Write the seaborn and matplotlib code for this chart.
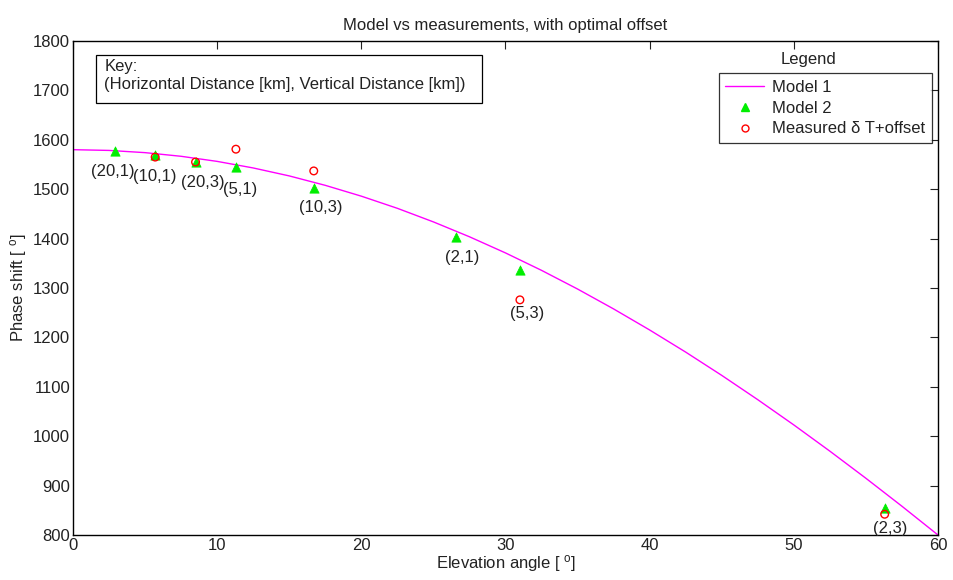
import matplotlib
matplotlib.use("Agg")
import matplotlib.pyplot as plt
import seaborn as sns
import pandas as pd
from matplotlib.patches import Rectangle
from matplotlib.lines import Line2D

# ---- data ----
model1_angle = [0, 2.5, 5, 7.5, 10, 12.5, 15, 17.5, 20, 22.5, 25, 27.5, 30,
                32.5, 35, 37.5, 40, 42.5, 45, 47.5, 50, 52.5, 55, 57.5, 60]
model1_phase = [1580, 1578.5, 1574, 1566.6, 1556.3, 1543, 1526.9, 1507.8, 1485.9,
                1461.3, 1433.8, 1403.7, 1371, 1335.7, 1297.9, 1257.6, 1215,
                1170.2, 1123.1, 1073.9, 1022.8, 969.7, 914.8, 858.2, 800]

model2_angle = [2.9, 5.7, 8.5, 11.3, 16.7, 26.6, 31.0, 56.3]
model2_phase = [1578, 1569, 1556, 1544, 1503, 1404, 1336, 855]

meas_angle = [5.7, 8.5, 11.3, 16.7, 31.0, 56.3]
meas_phase = [1565, 1555, 1581, 1537, 1276, 842]

labels = ["(20,1)", "(10,1)", "(20,3)", "(5,1)", "(10,3)", "(2,1)", "(5,3)", "(2,3)"]
label_x = [2.75, 5.7, 9.0, 11.6, 17.2, 27.0, 31.5, 56.7]
label_y = [1536, 1526, 1514, 1500, 1463, 1361, 1248, 813]

title = "Model vs measurements, with optimal offset"
xlabel = r"Elevation angle [ $^{\rm o}$]"
ylabel = r"Phase shift [ $^{\rm o}$]"
xticks = [0, 10, 20, 30, 40, 50, 60]
yticks = [800, 900, 1000, 1100, 1200, 1300, 1400, 1500, 1600, 1700, 1800]

# ---- style ----
sns.set_theme(style="white")
plt.rcParams["font.family"] = ["Liberation Sans", "DejaVu Sans"]
plt.rcParams["mathtext.fontset"] = "custom"
plt.rcParams["mathtext.rm"] = "Liberation Sans"
plt.rcParams["mathtext.it"] = "Liberation Sans"

fs = 12
fig = plt.figure(figsize=(9.54, 5.80), dpi=100)
ax = fig.add_axes([73/954, 1 - 535/580, (938 - 73)/954, (535 - 41)/580])

df1 = pd.DataFrame({"angle": model1_angle, "phase": model1_phase})
df2 = pd.DataFrame({"angle": model2_angle, "phase": model2_phase})
df3 = pd.DataFrame({"angle": meas_angle, "phase": meas_phase})

sns.lineplot(data=df1, x="angle", y="phase", ax=ax, color="#FF00FF", lw=1.0,
             sort=False, estimator=None, zorder=2)
sns.scatterplot(data=df2, x="angle", y="phase", ax=ax, marker="^", s=45,
                color="#00EE00", edgecolor="#00EE00", linewidth=0.5, zorder=3)
sns.scatterplot(data=df3, x="angle", y="phase", ax=ax, marker="o", s=30,
                facecolor="none", edgecolor="#FF0000", linewidth=1.0, zorder=4)

for lx, ly, t in zip(label_x, label_y, labels):
    ax.text(lx, ly, t, ha="center", va="center", fontsize=fs, color="#222222")

ax.set_xlim(0, 60)
ax.set_ylim(800, 1800)
ax.set_xticks(xticks)
ax.set_yticks(yticks)
ax.tick_params(direction="in", length=6, width=0.8, top=True, right=True,
               labelsize=fs, colors="#222222", pad=2)
for sp in ax.spines.values():
    sp.set_color("black")
    sp.set_linewidth(1.0)
ax.set_title(title, fontsize=fs, pad=8, color="#222222")
ax.set_xlabel(xlabel, fontsize=fs, labelpad=0, color="#222222")
ax.set_ylabel(ylabel, fontsize=fs, labelpad=3, color="#222222")

# Key box
ax.add_patch(Rectangle((0.0266, 0.874), 0.446, 0.0975, transform=ax.transAxes,
                       fill=False, edgecolor="black", lw=0.9, zorder=5))
ax.text(0.036, 0.948, "Key:", transform=ax.transAxes, fontsize=fs,
        va="center", ha="left", color="#222222")
ax.text(0.036, 0.911, "(Horizontal Distance [km], Vertical Distance [km])",
        transform=ax.transAxes, fontsize=fs, va="center", ha="left", color="#222222")

# Legend
handles = [Line2D([], [], color="#FF00FF", lw=1.0),
           Line2D([], [], marker="^", ls="none", color="#00EE00", markersize=6),
           Line2D([], [], marker="o", ls="none", markerfacecolor="none",
                  markeredgecolor="#FF0000", markersize=5, markeredgewidth=1.0)]
leg = ax.legend(handles, ["Model 1", "Model 2", r"Measured δ T+offset"],
                loc="upper right", bbox_to_anchor=(0.993, 0.935), fontsize=fs,
                frameon=True, fancybox=False, borderpad=0.4, labelspacing=0.35,
                handlelength=2.3, handletextpad=0.5, borderaxespad=0.0)
leg.get_frame().set_edgecolor("black")
leg.get_frame().set_linewidth(0.9)
for t in leg.get_texts():
    t.set_color("#222222")
ax.text(0.85, 0.962, "Legend", transform=ax.transAxes, fontsize=fs,
        ha="center", va="center", color="#222222")

fig.savefig("out.png", dpi=100, facecolor="white")
